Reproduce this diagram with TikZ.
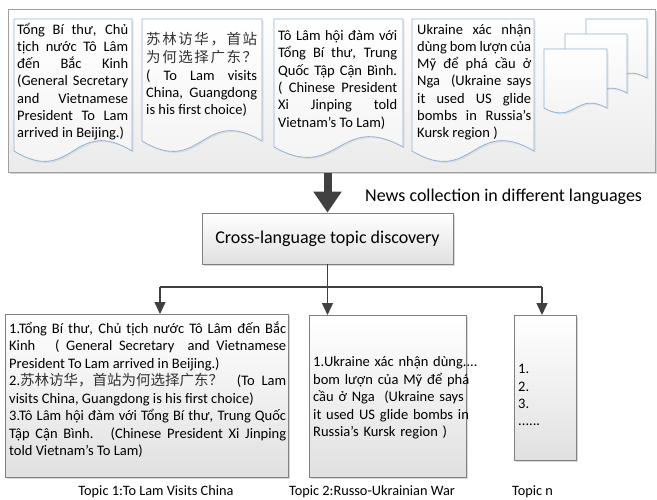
\documentclass[tikz,border=0pt]{standalone}
\usepackage{fontspec}
\setmainfont{Carlito}
\newfontfamily\cjk{Noto Sans CJK SC}
\usetikzlibrary{arrows.meta,shadows}
\definecolor{lineg}{HTML}{404040}
\definecolor{docblue}{HTML}{95B3D7}
\definecolor{frameg}{HTML}{A0A0A0}
\definecolor{boxg}{HTML}{808080}
\newcommand{\jl}[1]{\makebox[\linewidth][s]{#1}}
\newcommand{\zh}[1]{{\cjk\color{black!80}#1}}
\newcommand{\docshape}[5]{%
  \draw[docs] (#1,#2) -- (#3,#2) -- (#3,#4)
    .. controls ({(#1+#3)/2},{#4-#5}) and ({(#1+#3)/2},{#4+#5}) .. (#1,#4) -- cycle;}
\tikzset{
  docs/.style={draw=docblue, line width=0.8pt, top color=white, bottom color=black!5,
    drop shadow={opacity=0.15, shadow xshift=1.5pt, shadow yshift=-1.5pt}},
  frame/.style={draw=frameg, line width=1pt, top color=white, bottom color=black!8,
    drop shadow={opacity=0.35, shadow xshift=1.5pt, shadow yshift=-1.5pt}},
  box/.style={draw=boxg, line width=0.8pt, top color=white, bottom color=black!12,
    drop shadow={opacity=0.3, shadow xshift=1.5pt, shadow yshift=-1.5pt}},
  doctext/.style={anchor=base west, inner sep=0pt, align=justify,
    font=\fontsize{14.5}{17.3}\selectfont},
  boxtext/.style={anchor=base west, inner sep=0pt,
    font=\fontsize{14.5}{17.5}\selectfont},
  lbl/.style={inner sep=0pt, font=\fontsize{14.3}{16}\selectfont},
  conn/.style={draw=lineg, line width=1.5pt},
  connarrow/.style={conn, -{Triangle[width=11pt,length=12pt]}},
  bigarrow/.style={draw=lineg, line width=8pt, -{Triangle[width=27pt,length=21pt]}},
}
\begin{document}
\begin{tikzpicture}[x=1pt,y=-1pt]
\useasboundingbox (0,0) rectangle (657,499);
% top frame
\node[frame, anchor=north west, minimum width=647pt, minimum height=163pt, inner sep=0pt] (frame) at (8,9) {};
% documents
\docshape{14}{19}{132}{151}{36}
\docshape{142}{19}{262}{141}{36}
\docshape{274}{19}{403}{147}{36}
\docshape{412}{19}{534}{151}{36}
\docshape{586}{19}{647}{78}{17}
\docshape{565}{34}{627}{93}{17}
\docshape{544}{49}{607}{108}{17}
% document texts
\node[doctext, text width=111pt] (d1) at (17,34) {%
\jl{Tổng Bí thư, Chủ}\\
\jl{tịch nước Tô Lâm}\\
\jl{đến Bắc Kinh}\\
\jl{(General Secretary}\\
\jl{and Vietnamese}\\
\jl{President To Lam}\\
arrived in Beijing.)};
\node[doctext, text width=111pt] (d2) at (146,44) {%
\hbox to \linewidth{\zh{苏\hfill 林\hfill 访\hfill 华\hfill ，\hfill 首\hfill 站}}\\[1.5pt]
\hbox to \linewidth{\zh{为\hfill 何\hfill 选\hfill 择\hfill 广\hfill 东\hfill ？}}\\
\jl{( To Lam visits}\\
\jl{China, Guangdong}\\
is his first choice)};
\node[doctext, text width=119pt] (d3) at (278,40.5) {%
\jl{Tô Lâm hội đàm với}\\
\jl{Tổng Bí thư, Trung}\\
\jl{Quốc Tập Cận Bình.}\\
\jl{( Chinese President}\\
\jl{Xi Jinping told}\\
Vietnam’s To Lam)};
\node[doctext, text width=114pt] (d4) at (417,34) {%
\jl{Ukraine xác nhận}\\
\jl{dùng bom lượn của}\\
\jl{Mỹ để phá cầu ở}\\
\jl{Nga\ \ (Ukraine says}\\
\jl{it used US glide}\\
\jl{bombs in Russia's}\\
Kursk region )};
% main arrow and label
\node[box, minimum width=251pt, minimum height=51pt, inner sep=0pt,
  font=\fontsize{18}{20}\selectfont] (cross) at (327.5,238.5) {Cross-language topic discovery};
\draw[bigarrow] (frame.south -| cross.north) -- (cross.north);
\node[anchor=west, inner sep=0pt, font=\fontsize{18}{20}\selectfont] (news) at (365,197) {News collection in different languages};
% topic boxes
\node[box, anchor=north west, minimum width=283pt, minimum height=163pt, inner sep=0pt] (b1) at (5,314) {};
\node[box, anchor=north west, minimum width=157pt, minimum height=162pt, inner sep=0pt] (b2) at (309,315) {};
\node[box, anchor=north west, minimum width=62pt, minimum height=145pt, inner sep=0pt] (b3) at (514,315) {};
\node[boxtext, text width=277pt, align=justify] (t1) at (9,333) {%
\jl{1.Tổng Bí thư, Chủ tịch nước Tô Lâm đến Bắc}\\
\jl{Kinh\ \ \ ( General Secretary\ \ and Vietnamese}\\
President To Lam arrived in Beijing.)\\
\jl{2.\zh{苏林访华，首站为何选择广东？}\ \ (To Lam}\\
visits China, Guangdong is his first choice)\\
\jl{3.Tô Lâm hội đàm với Tổng Bí thư, Trung Quốc}\\
\jl{Tập Cận Bình.\ \ \ (Chinese President Xi Jinping}\\
told Vietnam’s To Lam)};
\node[boxtext, text width=175pt, align=left] (t2) at (313,366.5) {%
1.Ukraine xác nhận dùng\rlap{....}\\
bom lượn của Mỹ để phá\\
cầu ở Nga\ \ (Ukraine says\\
it used US glide bombs in\\
Russia's Kursk region )};
\node[boxtext, text width=50pt, align=left] (t3) at (518,373.5) {%
1.\\ 2.\\ 3.\\[-1pt] ......};
% connectors
\coordinate (junc) at (327.5,287);
\coordinate (j1) at (160,287);
\coordinate (j3) at (542,287);
\draw[conn] (cross.south) -- (junc);
\draw[conn] (j1) -- (j3);
\draw[connarrow] (j1) -- (j1 |- b1.north);
\draw[connarrow] (junc) -- (junc |- b2.north);
\draw[connarrow] (j3) -- (j3 |- b3.north);
% labels
\node[lbl, anchor=base] (l1) at (156,495) {Topic 1:To Lam Visits China};
\node[lbl, anchor=base] (l2) at (372,495) {Topic 2:Russo-Ukrainian War};
\node[lbl, anchor=base] (l3) at (532.5,495) {Topic n};
\end{tikzpicture}
\end{document}
